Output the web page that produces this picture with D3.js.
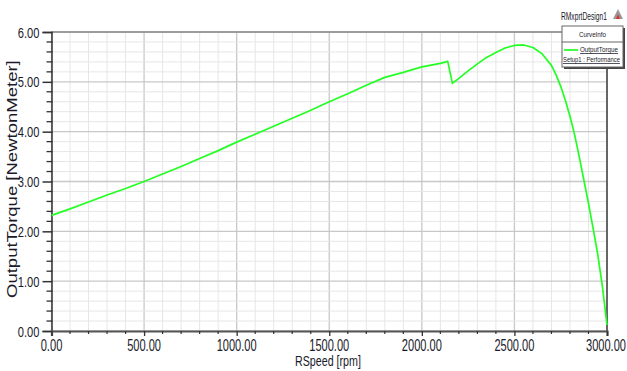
<!DOCTYPE html>
<html><head><meta charset="utf-8">
<script src="https://cdn.jsdelivr.net/npm/d3@7"></script>
<style>
body{margin:0;background:#fff;}
svg{display:block;font-family:"Liberation Sans",Arial,sans-serif;}
</style></head>
<body><svg id="c" width="627" height="371"></svg>
<script>
const speed = [0,100,200,300,400,500,600,700,800,900,1000,1100,1200,1300,1400,1500,1600,1700,1800,1900,2000,2100,2140,2165,2200,2250,2300,2350,2400,2450,2500,2550,2600,2650,2700,2725,2750,2775,2800,2825,2850,2875,2900,2925,2950,2975,3000];
const torque = [2.32,2.45,2.59,2.73,2.86,3.00,3.15,3.30,3.46,3.62,3.79,3.95,4.11,4.27,4.43,4.60,4.76,4.93,5.09,5.19,5.30,5.37,5.41,4.97,5.07,5.22,5.36,5.49,5.59,5.68,5.73,5.74,5.69,5.56,5.33,5.14,4.91,4.63,4.31,3.94,3.50,3.03,2.56,2.06,1.54,0.90,0.12];
const xTicks = [0,500,1000,1500,2000,2500,3000];
const yTicks = [0,1,2,3,4,5,6];
const xLabel = "RSpeed [rpm]";
const yLabel = "OutputTorque [NewtonMeter]";
const title = "RMxprtDesign1";
const legendTitle = "CurveInfo";
const seriesName = "OutputTorque";
const seriesSub = "Setup1 : Performance";

const svg = d3.select("#c");
const L = 51.5, R = 607, T = 32, B = 331;
const x = d3.scaleLinear().domain([0,3000]).range([L,R]);
const y = d3.scaleLinear().domain([0,6]).range([B,T]);
const fmt = d3.format(".2f");
const labW = s => { let w=0; for (const c of s) w += (c==='.'?3.4:6.1); return w; };

// place text squeezed horizontally to width w; anchor: 0 start, 0.5 middle, 1 end
function fitText(parent, str, px, py, size, w, anchor, rot) {
  const t = parent.append("text").attr("font-size", size + "px").attr("fill", "#1a1a2a").text(str);
  const nat = t.node().getComputedTextLength();
  const k = w / nat;
  t.attr("x", -anchor * nat).attr("y", 0)
   .attr("transform", `translate(${px},${py})${rot ? " rotate(" + rot + ")" : ""} scale(${k},1)`);
  return t;
}

// grid
const g = svg.append("g");
const xMinor = d3.range(0,3001,100), yMinor = d3.range(0,6.001,0.2);
const isInt = d => Math.abs(d-Math.round(d))<1e-6;
g.selectAll(".vx").data(xMinor).enter().append("line")
  .attr("x1",d=>x(d)).attr("x2",d=>x(d)).attr("y1",T).attr("y2",B)
  .attr("stroke",d=>d%500===0?"#c8c8c8":"#e6e6e6").attr("stroke-width",d=>d%500===0?1.3:1);
g.selectAll(".hy").data(yMinor).enter().append("line")
  .attr("x1",L).attr("x2",R).attr("y1",d=>y(d)).attr("y2",d=>y(d))
  .attr("stroke",d=>isInt(d)?"#c8c8c8":"#e6e6e6").attr("stroke-width",d=>isInt(d)?1.3:1);

// frame
svg.append("line").attr("x1",L).attr("x2",R).attr("y1",T).attr("y2",T).attr("stroke","#888").attr("stroke-width",1.5);
svg.append("line").attr("x1",R).attr("x2",R).attr("y1",T).attr("y2",B).attr("stroke","#666").attr("stroke-width",2);

// y axis
const yAx = d3.axisLeft(y).tickValues(yTicks).tickFormat("").tickSize(9);
const ya = svg.append("g").attr("transform",`translate(${L},0)`).call(yAx);
ya.select(".domain").attr("stroke","#333").attr("stroke-width",1.5);
ya.selectAll(".tick line").attr("stroke","#333").attr("stroke-width",1.5).attr("x2",-9).attr("x1",1);
const yl = svg.append("g");
yTicks.forEach(d => fitText(yl, fmt(d), L-12, y(d)+5.5, 15, labW(fmt(d)), 1));
svg.append("g").selectAll("line").data(yMinor.filter(d=>!isInt(d))).enter().append("line")
  .attr("x1",L-5).attr("x2",L+1).attr("y1",d=>y(d)).attr("y2",d=>y(d)).attr("stroke","#333").attr("stroke-width",1.3);

// x axis
const xAx = d3.axisBottom(x).tickValues(xTicks).tickFormat("").tickSize(5);
const xa = svg.append("g").attr("transform",`translate(0,${B})`).call(xAx);
xa.select(".domain").attr("stroke","#555").attr("stroke-width",2.2);
xa.selectAll(".tick line").attr("stroke","#333").attr("stroke-width",1.3);
const xl = svg.append("g");
xTicks.forEach(d => {
  const w = labW(fmt(d));
  const cx = Math.min(x(d), 626 - w/2);
  fitText(xl, fmt(d), cx, B+20, 16, w, 0.5);
});
svg.append("g").selectAll("line").data(xMinor.filter(d=>d%500!==0)).enter().append("line")
  .attr("x1",d=>x(d)).attr("x2",d=>x(d)).attr("y1",B).attr("y2",B+3).attr("stroke","#333").attr("stroke-width",1.2);

// axis titles
fitText(svg, xLabel, 328, 366, 14, 66, 0.5);
fitText(svg, yLabel, 17, 179, 14, 238, 0.5, -90);

// curve
const pts = speed.map((s,i)=>[s,torque[i]]);
svg.append("path").datum(pts).attr("fill","none").attr("stroke","#22ff22").attr("stroke-width",1.7)
  .attr("stroke-linejoin","round")
  .attr("d",d3.line().x(d=>x(d[0])).y(d=>y(d[1])));

// title
fitText(svg, title, 561, 20, 11, 46, 0);
// logo
svg.append("path").attr("d","M613,19 L618,9 L623,19 Z").attr("fill","#999");
svg.append("path").attr("d","M616,19 L618,14 L620,19 Z").attr("fill","#d33");

// legend
const lg = svg.append("g");
lg.append("rect").attr("x",564).attr("y",28).attr("width",61).attr("height",41).attr("fill","#444");
lg.append("rect").attr("x",562).attr("y",26).attr("width",61).attr("height",41).attr("fill","#fff").attr("stroke","#666").attr("stroke-width",1);
lg.append("line").attr("x1",562).attr("x2",623).attr("y1",42).attr("y2",42).attr("stroke","#666");
fitText(lg, legendTitle, 592.5, 37, 8, 27, 0.5);
lg.append("line").attr("x1",564).attr("x2",578).attr("y1",50).attr("y2",50).attr("stroke","#22ff22").attr("stroke-width",1.7);
fitText(lg, seriesName, 580, 52, 7.5, 38, 0).attr("text-decoration","underline");
fitText(lg, seriesSub, 563, 62, 7.5, 57, 0).attr("text-decoration","underline");
</script></body></html>
